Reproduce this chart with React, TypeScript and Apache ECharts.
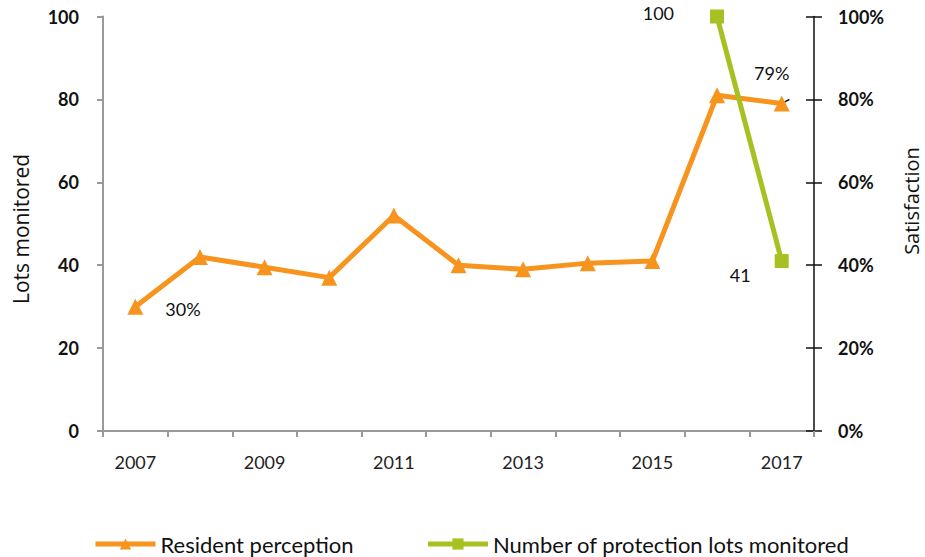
import React, { useEffect, useRef } from "react";
import * as echarts from "echarts";

const categories = ["2007", "2008", "2009", "2010", "2011", "2012", "2013", "2014", "2015", "2016", "2017"];
const residentPerception = [30, 42, 39.5, 37, 52, 40, 39, 40.5, 41, 81, 79];
const lotsMonitored = [null, null, null, null, null, null, null, null, null, 100, 41];
const leftTicks = [0, 20, 40, 60, 80, 100];

const ORANGE = "#F7941D";
const GREEN = "#A9C023";
const FONT = "Lato, 'Open Sans', sans-serif";
const TITLE_FONT = "'Open Sans', sans-serif";

export default function App() {
  const ref = useRef<HTMLDivElement>(null);
  useEffect(() => {
    if (!ref.current) return;
    const chart = echarts.init(ref.current, undefined, { renderer: "svg" });
    chart.setOption({
      animation: false,
      textStyle: { fontFamily: FONT },
      grid: { left: 103, right: 111, top: 16.5, bottom: 126, containLabel: false },
      legend: {
        left: 88,
        top: 528,
        itemWidth: 60,
        itemHeight: 14,
        itemGap: 72,
        textStyle: { fontSize: 22, color: "#111", fontFamily: FONT },
        data: [
          { name: "Resident perception", lineStyle: { width: 5 } },
          { name: "Number of protection lots monitored", lineStyle: { width: 5 } },
        ],
      },
      graphic: [
        {
          type: "text",
          x: 21,
          y: 229,
          rotation: Math.PI / 2,
          style: { text: "Lots monitored", fontSize: 21, fill: "#111", fontFamily: TITLE_FONT, align: "center", verticalAlign: "middle" },
        },
        {
          type: "text",
          x: 911,
          y: 201,
          rotation: Math.PI / 2,
          style: { text: "Satisfaction", fontSize: 20, fill: "#111", fontFamily: TITLE_FONT, align: "center", verticalAlign: "middle" },
        },
      ],
      xAxis: {
        type: "category",
        data: categories,
        boundaryGap: true,
        axisLine: { lineStyle: { color: "#999", width: 2 } },
        axisTick: { show: true, length: 6, lineStyle: { color: "#999", width: 2 }, alignWithLabel: false, interval: 0 },
        axisLabel: { interval: 1, margin: 22, fontSize: 18, color: "#222", fontFamily: FONT },
      },
      yAxis: [
        {
          type: "value",
          min: leftTicks[0],
          max: leftTicks[leftTicks.length - 1],
          interval: 20,
          position: "left",
          splitLine: { show: false },
          axisLine: { show: true, lineStyle: { color: "#999", width: 2 } },
          axisTick: { show: true, length: 6, lineStyle: { color: "#999", width: 2 } },
          axisLabel: { margin: 24, fontSize: 18, fontWeight: "bold", color: "#111", fontFamily: FONT },
        },
        {
          type: "value",
          min: 0,
          max: 100,
          interval: 20,
          position: "right",
          splitLine: { show: false },
          axisLine: { show: true, lineStyle: { color: "#111", width: 1.5 } },
          axisTick: { show: true, length: 8, lineStyle: { color: "#111", width: 1.5 } },
          axisLabel: { margin: 24, fontSize: 18, fontWeight: "bold", color: "#111", fontFamily: FONT, formatter: "{value}%" },
        },
        {
          type: "value",
          min: 0,
          max: 100,
          interval: 20,
          position: "right",
          splitLine: { show: false },
          axisLine: { show: false },
          axisTick: { show: true, inside: true, length: 8, lineStyle: { color: "#111", width: 1.5 } },
          axisLabel: { show: false },
        },
      ],
      series: [
        {
          name: "Resident perception",
          type: "line",
          yAxisIndex: 1,
          data: residentPerception.map((v, i) => {
            if (i === 0) {
              return { value: v, label: { show: true, position: "right", distance: 22, offset: [0, 2], formatter: "{c}%" } };
            }
            if (i === residentPerception.length - 1) {
              return {
                value: v,
                label: { show: true, position: "top", distance: 20, offset: [-10, 6], formatter: "{c}%" },
                labelLine: { show: true, lineStyle: { color: "#111", width: 1.5 } },
              };
            }
            return v;
          }),
          symbol: "triangle",
          symbolSize: 16,
          lineStyle: { color: ORANGE, width: 5 },
          itemStyle: { color: ORANGE },
          label: { show: false, fontSize: 18, color: "#111", fontFamily: FONT },
          z: 3,
        },
        {
          name: "Number of protection lots monitored",
          type: "line",
          yAxisIndex: 0,
          data: lotsMonitored.map((v, i) => {
            if (i === 9) return { value: v, label: { show: true, position: "left", distance: 36, offset: [0, -4] } };
            if (i === 10) return { value: v, label: { show: true, position: "left", distance: 24, offset: [0, 14] } };
            return v;
          }),
          symbol: "rect",
          symbolSize: 14,
          lineStyle: { color: GREEN, width: 5 },
          itemStyle: { color: GREEN },
          label: { show: false, fontSize: 18, color: "#111", fontFamily: FONT },
          z: 4,
        },
      ],
    });
    return () => chart.dispose();
  }, []);
  return <div ref={ref} style={{ width: 925, height: 557, position: "absolute", left: 0, top: 0 }} />;
}
